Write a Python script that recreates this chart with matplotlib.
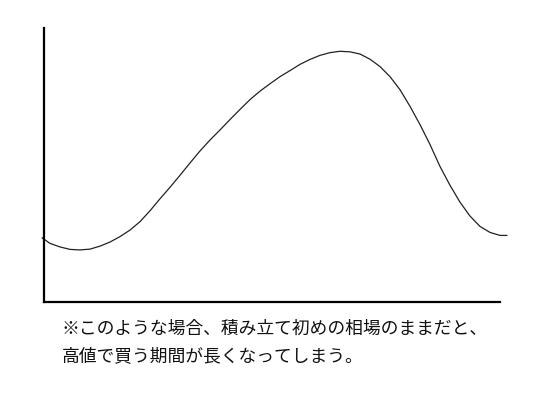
import matplotlib
matplotlib.use("Agg")
import matplotlib.pyplot as plt

# price curve (x: time, y: price, both 0-100 of the axes)
t = [-0.4, 1.3, 3.5, 5.7, 7.9, 10.1, 12.3, 14.5, 16.7, 18.9, 21.1, 23.3,
     25.4, 27.6, 29.8, 32.0, 34.2, 36.4, 38.6, 40.8, 43.0, 45.2, 47.4,
     49.6, 51.8, 54.0, 56.1, 58.3, 60.5, 62.7, 64.9, 67.1, 69.3, 71.5,
     73.7, 75.9, 78.1, 80.3, 82.5, 84.7, 86.8, 89.0, 91.2, 93.4, 95.6,
     97.8, 100.0, 101.5]
price = [23.4, 21.4, 20.1, 19.2, 19.0, 19.3, 20.4, 21.9, 23.9, 26.3, 29.4,
         33.4, 37.6, 41.8, 46.2, 50.7, 55.1, 59.1, 62.8, 66.6, 70.3, 73.9,
         77.0, 79.7, 82.3, 84.5, 86.7, 88.5, 90.0, 91.0, 91.5, 91.3, 90.5,
         88.6, 85.9, 82.2, 77.4, 71.3, 64.6, 57.3, 49.6, 42.7, 36.5, 31.4,
         27.6, 25.4, 24.3, 24.3]

note_lines = [
    "※このような場合、積み立て初めの相場のままだと、",
    "高値で買う期間が長くなってしまう。",
]

plt.rcParams['font.family'] = ['Noto Sans CJK JP', 'DejaVu Sans']

fig = plt.figure(figsize=(5.45, 4.0), dpi=100)
ax = fig.add_axes([44 / 545, 98 / 400, 456 / 545, 274 / 400])

ax.plot(t, price, color="#222222", lw=0.9, clip_on=False)

ax.set_xlim(0, 100)
ax.set_ylim(0, 100)
ax.set_xticks([])
ax.set_yticks([])
for side in ("top", "right"):
    ax.spines[side].set_visible(False)
for side in ("left", "bottom"):
    ax.spines[side].set_linewidth(1.6)
    ax.spines[side].set_color("black")

fig.text(62 / 545, 1 - 329 / 400, note_lines[0], fontsize=12.8, va="center", color="#111111")
fig.text(62 / 545, 1 - 356 / 400, note_lines[1], fontsize=12.8, va="center", color="#111111")

fig.savefig("out.png", dpi=100)
